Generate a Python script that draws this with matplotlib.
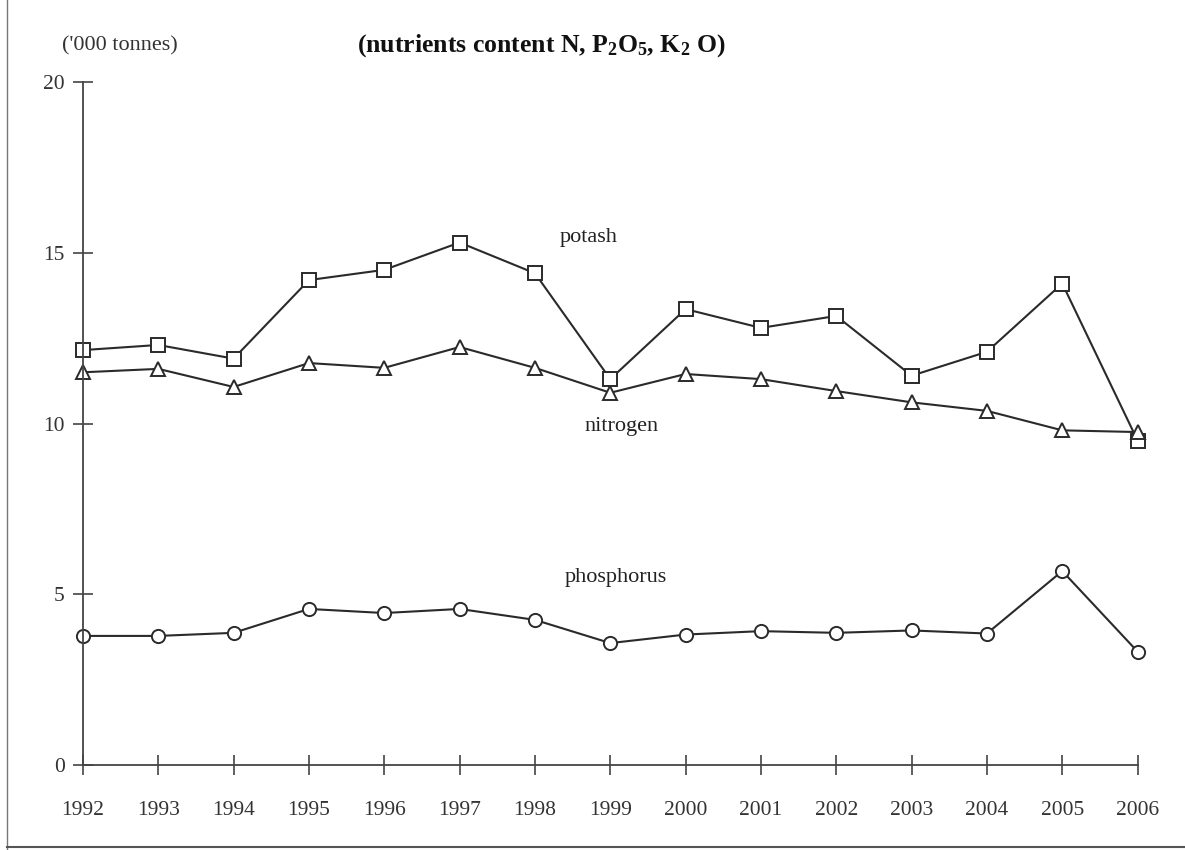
import numpy as np
import matplotlib.pyplot as plt
from matplotlib.lines import Line2D

years = np.arange(1992, 2007)
potash = [12.15, 12.3, 11.9, 14.2, 14.5, 15.3, 14.4, 11.3, 13.35, 12.8, 13.15, 11.4, 12.1, 14.1, 9.5]
nitrogen = [11.5, 11.6, 11.07, 11.77, 11.63, 12.24, 11.63, 10.9, 11.45, 11.3, 10.95, 10.62, 10.37, 9.8, 9.75]
phosphorus = [3.78, 3.78, 3.87, 4.57, 4.45, 4.57, 4.25, 3.57, 3.82, 3.92, 3.87, 3.94, 3.85, 5.68, 3.32]
yticks = [0, 5, 10, 15, 20]

plt.rcParams['font.family'] = ['Liberation Serif', 'DejaVu Serif']
plt.rcParams['mathtext.fontset'] = 'custom'
plt.rcParams['mathtext.rm'] = 'Liberation Serif:bold'
plt.rcParams['mathtext.it'] = 'Liberation Serif:bold'
plt.rcParams['mathtext.bf'] = 'Liberation Serif:bold'

fig = plt.figure(figsize=(11.85, 8.5), dpi=100)
ax = fig.add_axes([0.070, 0.100, 0.890, 0.8035])

line_kw = dict(color='#2a2a2a', linewidth=1.5, markerfacecolor='white',
               markeredgecolor='#2a2a2a', markeredgewidth=1.4, clip_on=False)
ax.plot(years, potash, marker='s', markersize=10.5, **line_kw)
ax.plot(years, nitrogen, marker='^', markersize=9.5, **line_kw)
ax.plot(years, phosphorus, marker='o', markersize=9.5, **line_kw)

ax.set_xlim(1992, 2006)
ax.set_ylim(0, 20)
ax.set_xticks(years)
ax.set_yticks(yticks)
ax.spines['top'].set_visible(False)
ax.spines['right'].set_visible(False)
for s in ('left', 'bottom'):
    ax.spines[s].set_color('#444444')
    ax.spines[s].set_linewidth(1.3)
ax.tick_params(axis='both', direction='inout', length=14, width=1.2,
               color='#444444', labelsize=15.5, labelcolor='#333333')
ax.tick_params(axis='x', pad=19)
ax.tick_params(axis='y', pad=6)

ax.text(1998.33, 15.46, 'potash', fontsize=16, color='#222222', va='center')
ax.text(1998.66, 9.9, 'nitrogen', fontsize=16, color='#222222', va='center')
ax.text(1998.4, 5.5, 'phosphorus', fontsize=16, color='#222222', va='center')

fig.text(0.052, 0.946, "('000 tonnes)", fontsize=16, color='#333333', va='center')
fig.text(0.457, 0.946, r"(nutrients content N, P$_2$O$_5$, K$_2$ O)", fontsize=18.5,
         fontweight='bold', ha='center', va='center', color='#111111')

# scan frame
fig.add_artist(Line2D([0.006, 0.006], [0.0, 1.0], color='#777777', linewidth=1.0))
fig.add_artist(Line2D([0.006, 1.0], [0.003, 0.003], color='#555555', linewidth=1.5))

fig.savefig('out.png', dpi=100)
